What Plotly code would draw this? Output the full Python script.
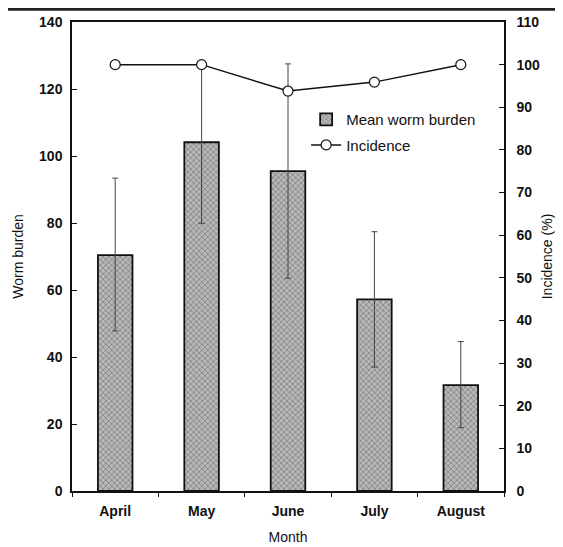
import plotly.graph_objects as go

months = ["April", "May", "June", "July", "August"]
worm_burden = [70.4, 104.1, 95.5, 57.2, 31.6]
err_plus = [23.0, 24.0, 32.0, 20.2, 13.0]
err_minus = [22.6, 24.2, 32.0, 20.2, 12.7]
incidence = [100, 100, 93.8, 95.9, 100]

FONT = "Liberation Sans, Arial, sans-serif"

fig = go.Figure()
fig.add_trace(go.Bar(
    x=months, y=worm_burden, name="Mean worm burden", width=0.4, legendgroup="a",
    marker=dict(color="#a8a8a8", line=dict(color="#111", width=1.8),
                pattern=dict(shape="x", fgcolor="#555", bgcolor="#b8b8b8", size=4, solidity=0.4)),
    error_y=dict(type="data", array=err_plus, arrayminus=err_minus, color="#444",
                 thickness=1, width=3),
))
fig.add_trace(go.Scatter(
    x=months, y=incidence, name="Incidence", yaxis="y2", mode="lines+markers", legendgroup="b",
    line=dict(color="#111", width=1.5),
    marker=dict(symbol="circle", size=10, color="white", line=dict(color="#111", width=1.2)),
))

fig.update_layout(
    width=555, height=539,
    margin=dict(l=64, r=59, t=14, b=56, autoexpand=False),
    paper_bgcolor="white", plot_bgcolor="white",
    font=dict(family=FONT, size=12, color="#111"),
    showlegend=True,
    legend=dict(x=0.542, y=0.827, xanchor="left", yanchor="top", bgcolor="rgba(0,0,0,0)",
                font=dict(size=15, family=FONT), traceorder="grouped", tracegroupgap=3,
                itemwidth=30),
    xaxis=dict(type="category", range=[-0.5, 4.5], showline=True, linecolor="#111", linewidth=1.5,
               mirror=True, ticks="outside", tickson="boundaries", ticklen=4, tickcolor="#111",
               automargin=False, showgrid=False, zeroline=False, ticklabelstandoff=6,
               tickfont=dict(size=14, family=FONT, weight="bold"),
               title=dict(text="Month", font=dict(size=14, family=FONT), standoff=15)),
    yaxis=dict(range=[0, 140], dtick=20, showline=True, linecolor="#111", linewidth=1.5,
               ticks="inside", ticklen=5, tickcolor="#111", showgrid=False, zeroline=False,
               automargin=False, ticklabelstandoff=5,
               tickfont=dict(size=14, family=FONT, weight="bold"),
               title=dict(text="Worm burden", font=dict(size=14, family=FONT), standoff=12)),
    yaxis2=dict(range=[0, 110], dtick=10, overlaying="y", side="right", showline=True,
                linecolor="#111", linewidth=1.5, ticks="inside", ticklen=5, tickcolor="#111",
                showgrid=False, zeroline=False, automargin=False, ticklabelstandoff=8,
                tickfont=dict(size=14, family=FONT, weight="bold"),
                title=dict(text="Incidence (%)", font=dict(size=14, family=FONT), standoff=3)),
    shapes=[dict(type="line", xref="paper", yref="paper", x0=-0.2, x1=1.2, y0=1.027, y1=1.027,
                 line=dict(color="#222", width=3))],
)

fig.write_html("out.html")
